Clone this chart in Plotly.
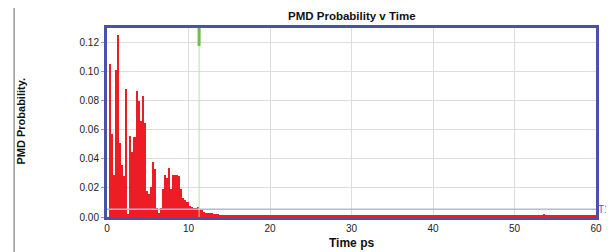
import plotly.graph_objects as go

# ---- data ----
bin_start_ps = 0.0
bin_width_ps = 0.25

prob_head = [  # 0.0 .. 14.0 ps, 0.25 ps bins
    0.0000, 0.1050, 0.0570, 0.0290, 0.1010, 0.1250, 0.0510, 0.0360,
    0.0280, 0.0880, 0.0020, 0.0560, 0.0450, 0.0550, 0.0870, 0.0800,
    0.0660, 0.0830, 0.0650, 0.0180, 0.0160, 0.0205, 0.0380, 0.0330,
    0.0060, 0.0030, 0.0060, 0.0195, 0.0287, 0.0270, 0.0337, 0.0195,
    0.0290, 0.0287, 0.0287, 0.0280, 0.0190, 0.0130, 0.0120, 0.0105,
    0.0075, 0.0070, 0.0060, 0.0060, 0.0070, 0.0055, 0.0045, 0.0035,
    0.0030, 0.0030, 0.0025, 0.0025, 0.0020, 0.0020, 0.0018, 0.0015,
]
prob_tail = [  # 14.0 .. 60.0 ps
    0.0013, 0.0012, 0.0011, 0.0012, 0.0010, 0.0011, 0.0009, 0.0010, 0.0012, 0.0010,
    0.0009, 0.0011, 0.0010, 0.0008, 0.0010, 0.0011, 0.0009, 0.0010, 0.0009, 0.0012,
    0.0009, 0.0008, 0.0010, 0.0009,
    0.0009, 0.0010, 0.0012, 0.0008, 0.0009, 0.0011, 0.0009, 0.0007, 0.0010, 0.0012,
    0.0009, 0.0008, 0.0009, 0.0011, 0.0010, 0.0009, 0.0007, 0.0009, 0.0012, 0.0010,
    0.0009, 0.0008, 0.0009, 0.0011, 0.0009, 0.0010, 0.0012, 0.0009, 0.0008, 0.0009,
    0.0010, 0.0009, 0.0007, 0.0009, 0.0011, 0.0009, 0.0010, 0.0009, 0.0008, 0.0009,
    0.0012, 0.0011, 0.0009, 0.0008, 0.0009, 0.0010, 0.0009, 0.0011, 0.0009, 0.0008,
    0.0009, 0.0010, 0.0012, 0.0009, 0.0009, 0.0007, 0.0009, 0.0011, 0.0010, 0.0009,
    0.0008, 0.0009, 0.0011, 0.0009, 0.0010, 0.0009, 0.0008, 0.0009, 0.0010, 0.0012,
    0.0009, 0.0009, 0.0011, 0.0010, 0.0009, 0.0009, 0.0011, 0.0012, 0.0010, 0.0012,
    0.0013, 0.0014, 0.0013, 0.0015, 0.0015, 0.0013, 0.0014, 0.0015, 0.0013, 0.0014,
    0.0013, 0.0012,
    0.0010, 0.0009, 0.0009, 0.0011, 0.0010, 0.0009, 0.0008, 0.0009, 0.0012, 0.0010,
    0.0009, 0.0009, 0.0011, 0.0009, 0.0008, 0.0010, 0.0009, 0.0011, 0.0009, 0.0009,
    0.0012, 0.0010, 0.0009, 0.0008, 0.0009, 0.0011, 0.0010, 0.0009, 0.0009, 0.0011,
    0.0012, 0.0009, 0.0009, 0.0010, 0.0009, 0.0008, 0.0010, 0.0011, 0.0009, 0.0012,
    0.0010, 0.0011,
    0.0019, 0.0016,
    0.0010, 0.0009, 0.0011, 0.0009, 0.0010, 0.0012,
    0.0017, 0.0015,
    0.0011, 0.0009, 0.0010, 0.0012, 0.0009, 0.0009, 0.0011, 0.0010, 0.0009, 0.0012,
    0.0011, 0.0009, 0.0010, 0.0009, 0.0011, 0.0010,
]
probability = prob_head + prob_tail
time_ps = [bin_start_ps + (i + 0.5) * bin_width_ps for i in range(len(probability))]

x_ticks = [0, 10, 20, 30, 40, 50, 60]
y_ticks = [0.00, 0.02, 0.04, 0.06, 0.08, 0.10, 0.12]
t1_level = 0.0053
cursor_ps = 11.3
x_range = [0, 60]
y_range = [0, 0.13]

FONT = "Liberation Sans, Arial, sans-serif"

fig = go.Figure()
fig.add_trace(go.Bar(
    x=time_ps, y=probability, width=bin_width_ps,
    marker=dict(color="#ee1c25", line=dict(width=0)),
    hoverinfo="skip",
))
fig.add_trace(go.Scatter(
    x=x_range, y=[t1_level, t1_level], mode="lines",
    line=dict(color="#b4b7e0", width=1.5), hoverinfo="skip",
))

# cursor line (thin) and marker (thick) at top
fig.add_shape(type="line", xref="x", yref="paper", x0=cursor_ps, x1=cursor_ps,
              y0=0, y1=1, line=dict(color="#b5e39a", width=1), layer="above")
fig.add_shape(type="line", xref="x", yref="paper", x0=cursor_ps, x1=cursor_ps,
              y0=0.905, y1=1, line=dict(color="#6cc04a", width=3), layer="above")
# left separator line
fig.add_shape(type="line", xref="paper", yref="paper", x0=-0.19, x1=-0.19,
              y0=-0.19, y1=1.11, line=dict(color="#666666", width=1))

fig.add_annotation(text="<b>PMD Probability v Time</b>", xref="paper", yref="paper",
                   x=0.5, y=1.066, xanchor="center", yanchor="middle", showarrow=False,
                   font=dict(family=FONT, size=11.5, color="#111111"))
fig.add_annotation(text="<b>Time ps</b>", xref="paper", yref="paper",
                   x=0.5, y=-0.138, xanchor="center", yanchor="middle", showarrow=False,
                   font=dict(family=FONT, size=12, color="#111111"))
fig.add_annotation(text="<b>PMD Probability.</b>", xref="paper", yref="paper",
                   x=-0.176, y=0.51, xanchor="center", yanchor="middle", showarrow=False,
                   textangle=-90, font=dict(family=FONT, size=11, color="#111111"))
fig.add_annotation(text="T1", xref="paper", yref="y", x=1.0, y=t1_level,
                   xanchor="left", yanchor="middle", xshift=1, showarrow=False,
                   borderpad=0, font=dict(family=FONT, size=10, color="#5a60b4"))

fig.update_layout(
    width=606, height=244,
    margin=dict(l=99, r=13, t=20, b=35),
    paper_bgcolor="white", plot_bgcolor="white",
    showlegend=False, bargap=0,
    font=dict(family=FONT, size=10, color="#222222"),
    xaxis=dict(range=x_range, tickvals=x_ticks, showgrid=True, gridcolor="#dddddd",
               gridwidth=1, zeroline=False, showline=True, mirror=True,
               linecolor="#4a52a8", linewidth=3, ticks="", tickfont=dict(size=10)),
    yaxis=dict(range=y_range, tickvals=y_ticks, tickformat=".2f", showgrid=True,
               gridcolor="#dddddd", gridwidth=1, zeroline=False, showline=True,
               mirror=True, linecolor="#4a52a8", linewidth=3, ticks="outside",
               ticklen=3, tickcolor="#999999", tickfont=dict(size=10)),
)

fig.write_html("out.html")
